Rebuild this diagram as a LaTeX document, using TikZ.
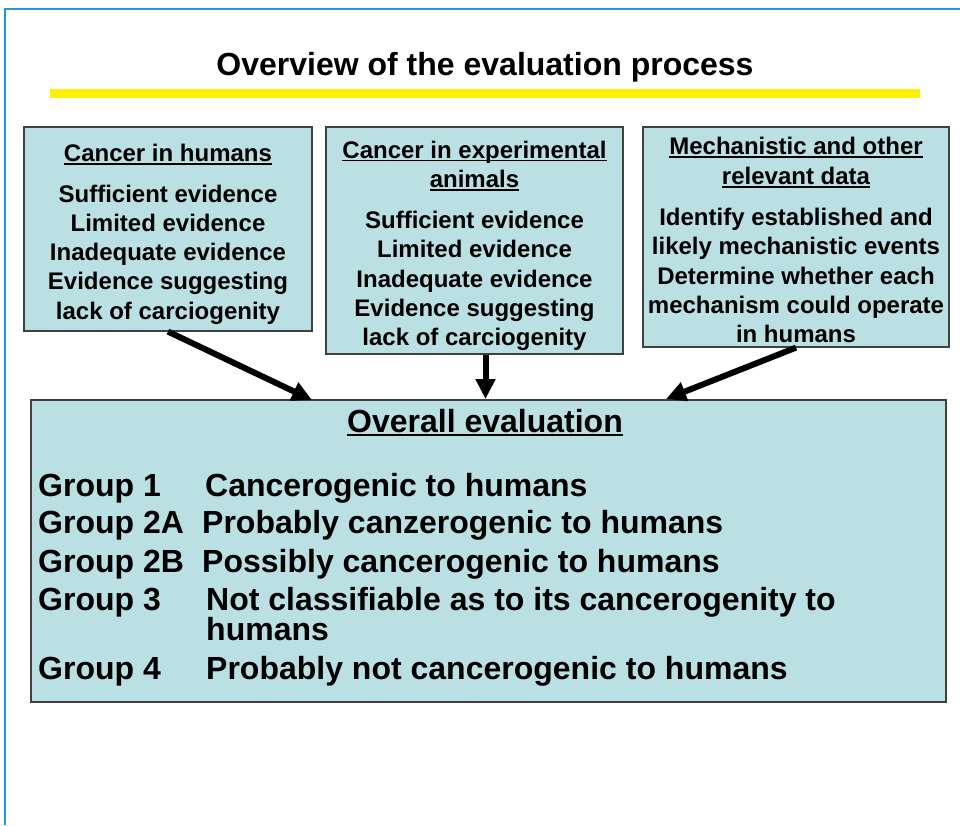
\documentclass[tikz,border=0pt]{standalone}
\usepackage{fontspec}
\setmainfont{Liberation Sans}
\usetikzlibrary{arrows.meta,positioning}
\definecolor{boxfill}{RGB}{186,224,228}
\definecolor{slideframe}{RGB}{30,155,215}
\newcommand{\undl}[1]{\setbox0\hbox{#1}\rlap{\rule[-0.14em]{\wd0}{0.08em}}\box0}
\tikzset{srcbox/.style={draw=black!75, line width=1.2pt, fill=boxfill, align=center, inner sep=0pt,
    font=\fontsize{24}{29.3}\selectfont\bfseries},
  bigarrow/.style={line width=6pt, -{Triangle[length=20pt,width=19pt]}},
  grp/.style={anchor=base west, inner sep=0pt, font=\fontsize{32}{38}\selectfont\bfseries}}

\begin{document}
\begin{tikzpicture}[x=1pt,y=-1pt]
\useasboundingbox (0,0) rectangle (960,825);
\draw[slideframe, line width=1.3pt] (5,825) -- (5,9) -- (960,9);

\node[anchor=base, font=\fontsize{32}{38}\selectfont\bfseries] (title) at (485,75) {Overview of the evaluation process};
\draw[yellow, line width=9pt] (50,93) -- (920,93);

% the three sources of data
\node[srcbox, minimum width=288, minimum height=204] (humans) at (168,229)
  {\rule{0pt}{28pt}\undl{Cancer in humans}\\[11pt]
   Sufficient evidence\\ Limited evidence\\ Inadequate evidence\\ Evidence suggesting\\ lack of carciogenity};
\node[srcbox, minimum width=297, minimum height=227] (animals) at (474.5,240.5)
  {\rule{0pt}{28pt}\undl{Cancer in experimental}\\ \undl{animals}\\[12pt]
   Sufficient evidence\\ Limited evidence\\ Inadequate evidence\\ Evidence suggesting\\ lack of carciogenity};
\node[srcbox, minimum width=306, minimum height=220] (mech) at (796,237)
  {\rule{0pt}{24pt}\undl{Mechanistic and other}\\ \undl{relevant data}\\[12pt]
   Identify established and\\ likely mechanistic events\\ Determine whether each\\ mechanism could operate\\ in humans};

% overall evaluation
\node[draw=black!75, line width=1.2pt, fill=boxfill, minimum width=915, minimum height=302] (eval) at (488.5,551) {};
\node[anchor=base, font=\fontsize{32}{38}\selectfont\bfseries] (evalhead) at (485,432) {\undl{Overall evaluation}};

\foreach \g/\d/\y/\dx [count=\i] in {1/Cancerogenic to humans/496/205,
    2A/Probably canzerogenic to humans/533.5/202,
    2B/Possibly cancerogenic to humans/572/202,
    3/Not classifiable as to its cancerogenity to/610/206,
    4/Probably not cancerogenic to humans/679/206}
  {
    \node[grp] (g\i) at (38,\y) {Group \g};
    \node[grp] (d\i) at (\dx,\y) {\d};
  }
\node[grp] (d3b) at (206,640) {humans};

\coordinate (tip1) at (312,400);
\coordinate (tip2) at (485.5,399);
\coordinate (tip3) at (666,399);
\draw[bigarrow] (humans.south) -- (tip1);
\draw[bigarrow] ([xshift=11pt]animals.south) -- (tip2);
\draw[bigarrow] (mech.south) -- (tip3);
\end{tikzpicture}
\end{document}
